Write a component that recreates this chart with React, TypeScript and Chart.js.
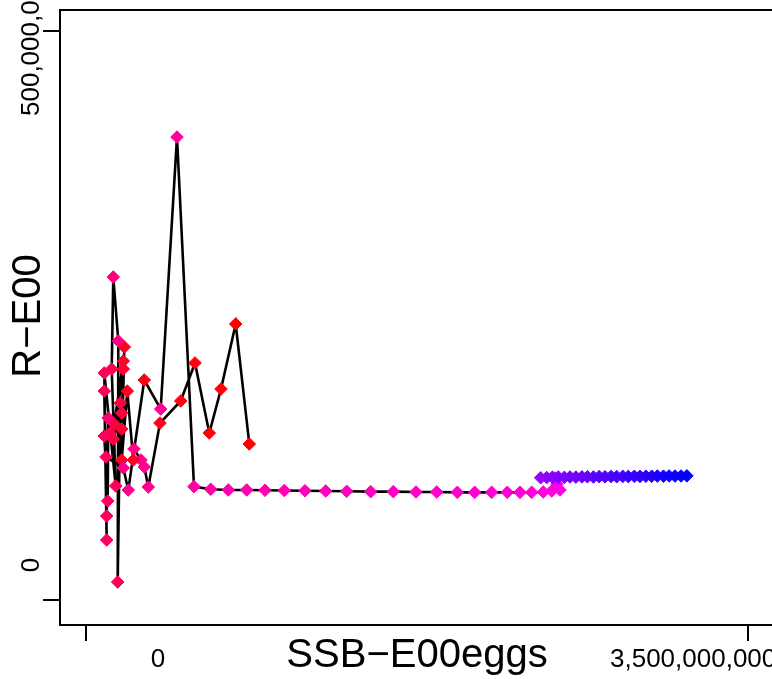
import React, { useEffect, useRef } from "react";
import { Chart, registerables } from "chart.js";

Chart.register(...registerables);

// SSB (eggs, millions) and recruitment (millions), in time order
const ssbMillions = [
  863.4, 791.5, 713.7, 651.9, 576.3, 500.7, 391.2, 329.4, 308.2, 290.8,
  253.8, 250.1, 218.4, 188.7, 202.5, 188.7, 197.2, 149.6, 197.2, 144.3,
  188.7, 126.9, 181.3, 167.6, 170.8, 144.3, 135.9, 157.0, 96.8, 109.4,
  96.8, 109.4, 117.9, 114.7, 96.8, 105.7, 197.2, 223.6, 308.2, 394.9,
  481.1, 571.0, 659.3, 752.3, 849.6, 946.4, 1048.4, 1157.9, 1267.3, 1378.3,
  1505.2, 1624.7, 1744.7, 1854.2, 1963.1, 2055.1, 2144.9, 2227.4, 2294.6, 2356.4,
  2417.7, 2462.2, 2506.0, 2490.2, 2479.6,
  2404, 2436, 2466, 2497, 2529, 2559, 2590, 2622, 2651, 2683,
  2713, 2744, 2776, 2806, 2838, 2867, 2899, 2929, 2960, 2991,
  3021, 3053, 3083, 3114, 3146, 3177,
];

const recMillions = [
  137.1, 242.5, 185.4, 146.7, 208.3, 174.9, 155.5, 99.3, 116.9, 123.0,
  132.7, 123.0, 183.6, 123.0, 222.3, 150.3, 210.0, 154.7, 203.0, 141.5,
  164.3, 146.7, 173.1, 15.8, 227.6, 283.8, 203.0, 100.2, 199.5, 52.7,
  183.6, 73.8, 159.9, 87.0, 144.1, 125.7, 116.0, 96.7, 193.3, 167.8,
  406.8, 99.6, 97.3, 96.7, 96.7, 96.4, 96.2, 96.0, 95.8, 95.5,
  95.2, 95.2, 94.9, 94.9, 94.6, 94.6, 94.6, 94.6, 94.6, 94.6,
  94.9, 95.8, 96.7, 101.9, 107.2,
  107.4, 107.6, 107.9, 108.0, 107.8, 108.1, 108.0, 108.2, 108.3, 108.1,
  108.4, 108.3, 108.5, 108.4, 108.6, 108.5, 108.7, 108.6, 108.8, 108.7,
  108.9, 108.8, 109.0, 108.9, 109.0, 109.1,
];

const xTickValues = [0, 3500000000];
const xTickLabels = ["0", "3,500,000,000"];
const yTickValues = [0, 500000000];
const yTickLabels = ["0", "500,000,000"];
const xTitle = "SSB\u2212E00eggs";
const yTitle = "R\u2212E00";

// ---- styles (marker colours) ----
const clusterColors = [
  "#ff0000", "#ff0000", "#ff0008", "#ff0008", "#ff0010", "#ff0010", "#ff0018", "#ff0090", "#ff0090", "#ff008c",
  "#ff0088", "#ff0020", "#ff0020", "#ff0028", "#ff0020", "#ff0030", "#ff0028", "#ff0038", "#ff0030", "#ff0040",
  "#ff0038", "#ff0048", "#ff0040", "#ff0050", "#ff0080", "#ff0078", "#ff0050", "#ff0058", "#ff0058", "#ff0060",
  "#ff0058", "#ff0060", "#ff0070", "#ff0060", "#ff0060", "#ff0060", "#ff0088", "#ff0090", "#ff0010", "#ff0099",
  "#ff00a0", "#ff00a8",
];

function lerpColor(a: number[], b: number[], t: number) {
  const c = a.map((v, i) => Math.round(v + (b[i] - v) * t));
  return `rgb(${c[0]},${c[1]},${c[2]})`;
}
function buildColors(): string[] {
  const out = [...clusterColors];
  const flatCount = 21;
  for (let i = 0; i < flatCount; i++) {
    out.push(lerpColor([255, 0, 170], [255, 0, 225], i / (flatCount - 1)));
  }
  out.push("rgb(248,0,240)");
  out.push("rgb(230,0,255)");
  const rest = ssbMillions.length - out.length;
  for (let i = 0; i < rest; i++) {
    out.push(lerpColor([150, 0, 255], [0, 0, 255], i / (rest - 1)));
  }
  return out;
}

const FONT = '"Liberation Sans", Arial, Helvetica, sans-serif';

const rFrame = {
  id: "rFrame",
  afterDraw(chart: any) {
    const { ctx, chartArea: a, scales } = chart;
    const xs = scales.x;
    const ys = scales.y;
    ctx.save();
    ctx.strokeStyle = "#000";
    ctx.lineWidth = 2;
    ctx.strokeRect(a.left, a.top, a.right - a.left, a.bottom - a.top);
    ctx.beginPath();
    xTickValues.forEach((v) => {
      const p = Math.round(xs.getPixelForValue(v));
      ctx.moveTo(p, a.bottom);
      ctx.lineTo(p, a.bottom + 16);
    });
    yTickValues.forEach((v) => {
      const p = Math.round(ys.getPixelForValue(v));
      ctx.moveTo(a.left, p);
      ctx.lineTo(a.left - 17, p);
    });
    ctx.stroke();

    ctx.fillStyle = "#000";
    ctx.font = `26px ${FONT}`;
    ctx.textBaseline = "alphabetic";
    ctx.textAlign = "center";
    ctx.fillText(xTickLabels[0], xs.getPixelForValue(xTickValues[0]) + 72, 667);
    ctx.textAlign = "left";
    ctx.fillText(xTickLabels[1], xs.getPixelForValue(xTickValues[1]) - 138, 667);

    ctx.save();
    ctx.translate(39, ys.getPixelForValue(yTickValues[0]) - 35);
    ctx.rotate(-Math.PI / 2);
    ctx.textAlign = "center";
    ctx.fillText(yTickLabels[0], 0, 0);
    ctx.restore();
    ctx.save();
    ctx.translate(39, ys.getPixelForValue(yTickValues[1]) + 85);
    ctx.rotate(-Math.PI / 2);
    ctx.textAlign = "left";
    ctx.fillText(yTickLabels[1], 0, 0);
    ctx.restore();

    ctx.font = `40px ${FONT}`;
    ctx.textAlign = "center";
    ctx.fillText(xTitle, 417, 667);
    ctx.save();
    ctx.translate(40, 316);
    ctx.rotate(-Math.PI / 2);
    ctx.fillText(yTitle, 0, 0);
    ctx.restore();
    ctx.restore();
  },
};

export default function App() {
  const ref = useRef<HTMLCanvasElement | null>(null);
  useEffect(() => {
    if (!ref.current) return;
    const colors = buildColors();
    const data = ssbMillions.map((x, i) => ({ x: x * 1e6, y: recMillions[i] * 1e6 }));
    const chart = new Chart(ref.current, {
      type: "scatter",
      data: {
        datasets: [
          {
            data,
            showLine: true,
            borderColor: "#000",
            borderWidth: 2.6,
            tension: 0,
            pointStyle: "rectRot",
            pointRadius: 6.3,
            pointHoverRadius: 6.3,
            pointBackgroundColor: colors,
            pointBorderColor: colors,
            pointBorderWidth: 1,
          } as any,
        ],
      },
      options: {
        responsive: false,
        animation: false,
        events: [],
        layout: { padding: { left: 60, top: 10, right: 10, bottom: 54 } },
        plugins: { legend: { display: false }, tooltip: { enabled: false } },
        scales: {
          x: { type: "linear", display: false, min: -137460000, max: 3722100000 },
          y: { type: "linear", display: false, min: -21970000, max: 518450000 },
        },
      },
      plugins: [rFrame],
    });
    return () => chart.destroy();
  }, []);
  return (
    <div style={{ position: "fixed", left: 0, top: 0, width: 800, height: 679, background: "#fff" }}>
      <canvas ref={ref} width={800} height={679} style={{ width: 800, height: 679, display: "block" }} />
    </div>
  );
}
